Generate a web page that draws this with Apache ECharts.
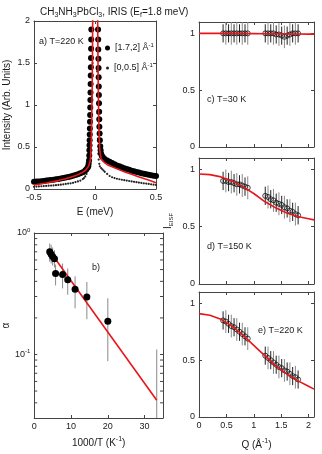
<!DOCTYPE html>
<html>
<head>
<meta charset="utf-8">
<script src="https://cdn.jsdelivr.net/npm/echarts@6/dist/echarts.min.js"></script>
<style>
  html, body { margin: 0; padding: 0; background: #fff; }
  #chart { width: 322px; height: 454px; }
</style>
</head>
<body>
<div id="chart"></div>
<script>
// a) spectra, T=220 K  (E in meV, intensity)
const bigDotsE = [-0.50,-0.48,-0.46,-0.44,-0.42,-0.40,-0.38,-0.36,-0.34,-0.32,-0.30,-0.28,-0.26,-0.24,-0.22,-0.20,-0.18,-0.16,-0.14,-0.12,-0.10,-0.08,-0.07,-0.06,-0.055,
  -0.052,-0.049,-0.047,-0.046,-0.045,-0.044,-0.043,-0.042,-0.041,-0.040,-0.039,-0.038,-0.037,-0.036,-0.035,-0.034,-0.033,-0.032,-0.031,-0.030,-0.029,
  0.024,0.025,0.026,0.027,0.028,0.029,0.030,0.031,0.032,0.033,0.034,0.035,0.036,0.038,0.040,0.043,0.046,0.050,
  0.055,0.06,0.07,0.08,0.10,0.12,0.14,0.16,0.18,0.20,0.22,0.24,0.26,0.28,0.30,0.32,0.34,0.36,0.38,0.40,0.42,0.44,0.46,0.48,0.50];
const bigDotsI = [0.085,0.088,0.090,0.093,0.096,0.100,0.103,0.107,0.110,0.115,0.120,0.125,0.130,0.137,0.143,0.150,0.158,0.167,0.176,0.187,0.200,0.220,0.235,0.255,0.270,
  0.30,0.34,0.40,0.46,0.52,0.58,0.65,0.72,0.80,0.88,0.97,1.06,1.15,1.25,1.35,1.45,1.56,1.67,1.78,1.90,2.02,
  2.02,1.90,1.78,1.66,1.55,1.44,1.33,1.22,1.12,1.02,0.92,0.83,0.74,0.66,0.58,0.51,0.46,0.42,
  0.40,0.385,0.370,0.355,0.340,0.325,0.310,0.295,0.280,0.270,0.260,0.248,0.237,0.228,0.218,0.210,0.202,0.195,0.188,0.182,0.175,0.170,0.163,0.158,0.155];
const smallDotsE = [-0.50,-0.48,-0.46,-0.44,-0.42,-0.40,-0.38,-0.36,-0.34,-0.32,-0.30,-0.28,-0.26,-0.24,-0.22,-0.20,-0.18,-0.16,-0.14,-0.12,-0.10,-0.09,-0.08,-0.07,-0.06,-0.055,-0.05,-0.045,-0.04,-0.035,-0.03,-0.025,-0.02,-0.015,
  0.015,0.018,0.021,0.024,0.027,0.03,0.035,0.04,0.05,0.06,0.07,0.08,0.10,0.12,0.14,0.16,0.18,0.20,0.22,0.24,0.26,0.28,0.30,0.32,0.34,0.36,0.38,0.40,0.42,0.44,0.46,0.48,0.50];
const smallDotsI = [0.027,0.029,0.031,0.033,0.035,0.037,0.039,0.041,0.043,0.046,0.049,0.052,0.056,0.060,0.064,0.068,0.074,0.082,0.090,0.100,0.118,0.130,0.150,0.180,0.220,0.250,0.290,0.350,0.440,0.580,0.80,1.10,1.50,2.10,
  2.10,1.40,0.90,0.60,0.42,0.35,0.30,0.27,0.25,0.235,0.220,0.205,0.180,0.155,0.140,0.130,0.122,0.116,0.110,0.105,0.100,0.095,0.090,0.085,0.081,0.077,0.072,0.068,0.064,0.060,0.056,0.052,0.048];
const fitAE = [-0.50,-0.45,-0.40,-0.35,-0.30,-0.25,-0.20,-0.15,-0.10,-0.08,-0.06,-0.05,-0.04,-0.035,-0.033,-0.030,-0.027,-0.024,-0.021,-0.019,-0.010,0,
  0.010,0.022,0.024,0.027,0.030,0.033,0.036,0.040,0.05,0.06,0.08,0.10,0.15,0.20,0.25,0.30,0.35,0.40,0.45,0.50];
const fitAI = [0.048,0.060,0.072,0.085,0.100,0.120,0.140,0.165,0.200,0.220,0.255,0.280,0.330,0.400,0.500,0.600,0.800,1.100,1.500,2.000,4.0,6.0,
  4.0,2.000,1.600,1.200,0.900,0.700,0.550,0.450,0.360,0.340,0.310,0.290,0.260,0.230,0.200,0.175,0.150,0.125,0.100,0.075];

// b) alpha vs 1000/T
const alphaX = [4.2, 4.6, 5.0, 5.5, 5.8, 7.7, 9.1, 11.1, 14.3, 20.0];
const alphaY = [0.70, 0.67, 0.64, 0.615, 0.465, 0.455, 0.413, 0.344, 0.297, 0.188];
const errX = [4.2, 4.6, 5.0, 5.5, 5.8, 7.7, 9.1, 11.1, 14.3, 20.0, 33.3];
const errLo = [0.58, 0.56, 0.54, 0.52, 0.37, 0.35, 0.31, 0.24, 0.195, 0.088, 0.03];
const errHi = [0.82, 0.80, 0.76, 0.72, 0.55, 0.56, 0.51, 0.44, 0.395, 0.29, 0.11];
const fitBX = [5.6, 33.3];
const fitBY = [0.62, 0.042];
const logMinor = [0.04,0.05,0.06,0.07,0.08,0.09,0.2,0.3,0.4,0.5,0.6,0.7,0.8,0.9];
const logMajor = [0.1, 1];

// c-e) EISF vs Q
const qVals = [0.44,0.49,0.54,0.59,0.64,0.69,0.74,0.79,0.84,0.89,
  1.21,1.26,1.31,1.36,1.41,1.46,1.51,1.56,1.61,1.66,1.71,1.76,1.81];
const eisf30 = [1.00,1.00,1.00,1.00,1.00,1.00,1.00,1.00,1.00,1.00,
  1.00,1.00,1.00,1.00,0.99,0.99,0.98,0.97,0.98,0.99,1.00,1.00,1.00];
const eisf150 = [0.90,0.90,0.89,0.89,0.88,0.87,0.87,0.86,0.85,0.84,
  0.77,0.76,0.74,0.73,0.71,0.70,0.69,0.67,0.66,0.64,0.63,0.61,0.60];
const eisf220 = [0.85,0.84,0.82,0.80,0.79,0.77,0.75,0.73,0.71,0.69,
  0.54,0.52,0.50,0.48,0.46,0.44,0.43,0.41,0.40,0.38,0.36,0.35,0.33];
const eisfErr = [0.08,0.10,0.08,0.10,0.08,0.10,0.08,0.10,0.08,0.10,
  0.08,0.10,0.08,0.10,0.08,0.10,0.08,0.10,0.08,0.10,0.08,0.10,0.08];
const fitQ = [0,0.2,0.4,0.6,0.8,1.0,1.2,1.4,1.6,1.8,2.0,2.1];
const fit30 = [1.00,1.00,1.00,1.00,0.999,0.998,0.997,0.996,0.995,0.994,0.993,0.993];
const fit150 = [0.96,0.955,0.935,0.90,0.85,0.79,0.72,0.665,0.62,0.59,0.57,0.56];
const fit220 = [0.91,0.895,0.86,0.80,0.72,0.63,0.54,0.45,0.38,0.32,0.27,0.245];

const font = 'Liberation Sans, Arial, sans-serif';
const ink = '#1a1a1a';
const frame = '#444';
const red = '#e8161b';

const chart = echarts.init(document.getElementById('chart'));

const grids = [
  { left: 34, top: 21, width: 122, height: 168 },
  { left: 34, top: 233, width: 129, height: 185 },
  { left: 199, top: 22, width: 115, height: 125 },
  { left: 199, top: 158, width: 115, height: 126 },
  { left: 199, top: 292, width: 115, height: 125 }
];

const supRich = {
  t: { fontSize: 10, fontFamily: font, color: ink, lineHeight: 12 },
  s: { fontSize: 7, fontFamily: font, color: ink, lineHeight: 7, padding: [0, 0, 7, 0] },
  b: { fontSize: 9, fontFamily: font, color: ink, lineHeight: 11 },
  bs: { fontSize: 6, fontFamily: font, color: ink, lineHeight: 6, padding: [0, 0, 6, 0] }
};

function axis(gi, pos, opts, labels) {
  return Object.assign({
    type: 'value', gridIndex: gi, position: pos,
    axisLine: { show: true, onZero: false, lineStyle: { color: frame, width: 1 } },
    axisTick: { show: true, inside: true, length: 3, lineStyle: { color: frame } },
    splitLine: { show: false },
    axisLabel: { show: labels, fontSize: 9, fontFamily: font, color: ink, margin: 4, showMaxLabel: false, showMinLabel: true },
    nameTextStyle: { fontSize: 10, fontFamily: font, color: ink, rich: supRich }
  }, opts);
}

function pair(gi, isX, opts, labels, extra) {
  const a = axis(gi, isX ? 'bottom' : 'left', Object.assign({}, opts, extra || {}), labels);
  const b = axis(gi, isX ? 'top' : 'right', opts, false);
  return [a, b];
}

const qx = { min: 0, max: 2.1, interval: 0.5 };
const qy = { min: 0, max: 1.1, interval: 0.5 };

const xAxes = [].concat(
  pair(0, true, { min: -0.5, max: 0.5, interval: 0.5 }, true,
    { name: 'E (meV)', nameLocation: 'middle', nameGap: 18 }),
  pair(1, true, { min: 0, max: 35, interval: 10 }, true,
    { name: '{t|1000/T (K}{s|-1}{t|)}', nameLocation: 'middle', nameGap: 19 }),
  pair(2, true, qx, false),
  pair(3, true, qx, false),
  pair(4, true, qx, true,
    { name: '{t|Q (Å}{s|-1}{t|)}', nameLocation: 'middle', nameGap: 22 })
);
xAxes[0].axisLabel.showMaxLabel = true;

// log axis for alpha: ticks and labels only at decades
const logAxis = {
  axisTick: { show: true, inside: true, length: 3, lineStyle: { color: frame }, customValues: logMajor },
  axisLabel: { show: true, fontSize: 9, fontFamily: font, color: ink, margin: 4, rich: supRich,
    customValues: logMajor,
    formatter: v => '{b|10}{bs|' + Math.round(Math.log10(v)) + '}' }
};

const yAxes = [].concat(
  pair(0, false, { min: 0, max: 2, interval: 0.5 }, true,
    { name: 'Intensity (Arb. Units)', nameLocation: 'middle', nameGap: 22 }),
  pair(1, false, { type: 'log', logBase: 10, min: 0.03, max: 1 }, true,
    { name: 'α', nameLocation: 'middle', nameGap: 22 }),
  pair(2, false, qy, true),
  pair(3, false, qy, true,
    { name: '{t|I}{sub|EISF}', nameLocation: 'middle', nameGap: 25 }),
  pair(4, false, qy, true)
);
yAxes[0].axisLabel.showMaxLabel = true;
yAxes[2].axisLabel = logAxis.axisLabel;
yAxes[2].axisTick = logAxis.axisTick;
yAxes[3].axisTick = Object.assign({}, logAxis.axisTick);
yAxes[6].nameTextStyle.rich = Object.assign({}, supRich, {
  sub: { fontSize: 6, fontFamily: font, color: ink, lineHeight: 6, padding: [6, 0, 0, 0] }
});

function zip(xs, ys) { return xs.map((x, i) => [x, ys[i]]); }

function errorBars(ai, xs, lo, hi, alt) {
  return {
    type: 'custom', xAxisIndex: ai, yAxisIndex: ai, silent: true, z: 2,
    data: xs.map((x, i) => [x, lo[i], hi[i], alt ? i % 2 : 1]),
    encode: { x: 0, y: [1, 2] },
    renderItem: (params, api) => {
      const p1 = api.coord([api.value(0), api.value(1)]);
      const p2 = api.coord([api.value(0), api.value(2)]);
      return {
        type: 'line',
        shape: { x1: p1[0], y1: p1[1], x2: p2[0], y2: p2[1] },
        style: { stroke: api.value(3) ? '#8a8a8a' : '#222', lineWidth: 1 }
      };
    }
  };
}

function fitLine(ai, xs, ys) {
  return {
    type: 'line', xAxisIndex: ai, yAxisIndex: ai, data: zip(xs, ys),
    showSymbol: false, silent: true, z: 5, clip: true,
    lineStyle: { color: red, width: 1.6 }
  };
}

function eisfPanel(ai, vals, fit) {
  return [
    errorBars(ai, qVals, vals.map((v, i) => v - eisfErr[i]), vals.map((v, i) => v + eisfErr[i]), true),
    {
      type: 'scatter', xAxisIndex: ai, yAxisIndex: ai, data: zip(qVals, vals), z: 3,
      symbol: 'circle', symbolSize: 5, silent: true,
      itemStyle: { color: 'rgba(0,0,0,0)', borderColor: '#111', borderWidth: 0.8, opacity: 1 }
    },
    fitLine(ai, fitQ, fit)
  ];
}

function minorTicks(xv, dx) {
  return {
    type: 'scatter', xAxisIndex: 2, yAxisIndex: 2, silent: true, clip: false,
    data: logMinor.map(v => [xv, v]), symbol: 'rect', symbolSize: [3, 1], symbolOffset: [dx, 0],
    itemStyle: { color: frame, opacity: 1 }, z: 1
  };
}

const series = [
  {
    name: '[0,0.5]', type: 'scatter', xAxisIndex: 0, yAxisIndex: 0,
    data: zip(smallDotsE, smallDotsI), symbolSize: 2.2, z: 2,
    itemStyle: { color: '#222', opacity: 1 }
  },
  {
    name: '[1.7,2]', type: 'scatter', xAxisIndex: 0, yAxisIndex: 0,
    data: zip(bigDotsE, bigDotsI), symbolSize: 6, z: 3,
    itemStyle: { color: '#000', opacity: 1 }
  },
  fitLine(0, fitAE, fitAI),

  errorBars(2, errX, errLo, errHi, false),
  fitLine(2, fitBX, fitBY),
  {
    type: 'scatter', xAxisIndex: 2, yAxisIndex: 2, data: zip(alphaX, alphaY),
    symbolSize: 7, z: 6, silent: true, itemStyle: { color: '#000', opacity: 1 }
  },
  minorTicks(0, 1.5),
  minorTicks(35, -1.5)
].concat(eisfPanel(4, eisf30, fit30), eisfPanel(6, eisf150, fit150), eisfPanel(8, eisf220, fit220));

const legendText = name => '{b|' + name + ' Å}{bs|-1}';

chart.setOption({
  animation: false,
  title: {
    text: '{t|CH}{u|3}{t|NH}{u|3}{t|PbCl}{u|3}{t|, IRIS (E}{u|f}{t|=1.8 meV)}',
    left: 35, top: 1,
    textStyle: {
      fontWeight: 'normal',
      rich: {
        t: { fontSize: 10, fontFamily: font, fontWeight: 'normal', color: ink, lineHeight: 12 },
        u: { fontSize: 7, fontFamily: font, fontWeight: 'normal', color: ink, lineHeight: 7, padding: [7, 0, 0, 0] }
      }
    }
  },
  legend: [
    {
      data: ['[1.7,2]'], left: 100, top: 37, itemWidth: 5, itemHeight: 5, itemGap: 2,
      formatter: legendText, textStyle: { rich: supRich }, selectedMode: false
    },
    {
      data: ['[0,0.5]'], left: 101, top: 57, itemWidth: 3, itemHeight: 3, itemGap: 2,
      formatter: legendText, textStyle: { rich: supRich }, selectedMode: false
    }
  ],
  grid: grids,
  xAxis: xAxes,
  yAxis: yAxes,
  graphic: [
    { type: 'text', left: 39, top: 37, style: { text: 'a) T=220 K', font: '9px ' + font, fill: ink } },
    { type: 'text', left: 92, top: 263, style: { text: 'b)', font: '9px ' + font, fill: ink } },
    { type: 'text', left: 207, top: 95, style: { text: 'c) T=30 K', font: '9px ' + font, fill: ink } },
    { type: 'text', left: 207, top: 242, style: { text: 'd) T=150 K', font: '9px ' + font, fill: ink } },
    { type: 'text', left: 258, top: 326, style: { text: 'e) T=220 K', font: '9px ' + font, fill: ink } }
  ],
  series: series
});
</script>
</body>
</html>
